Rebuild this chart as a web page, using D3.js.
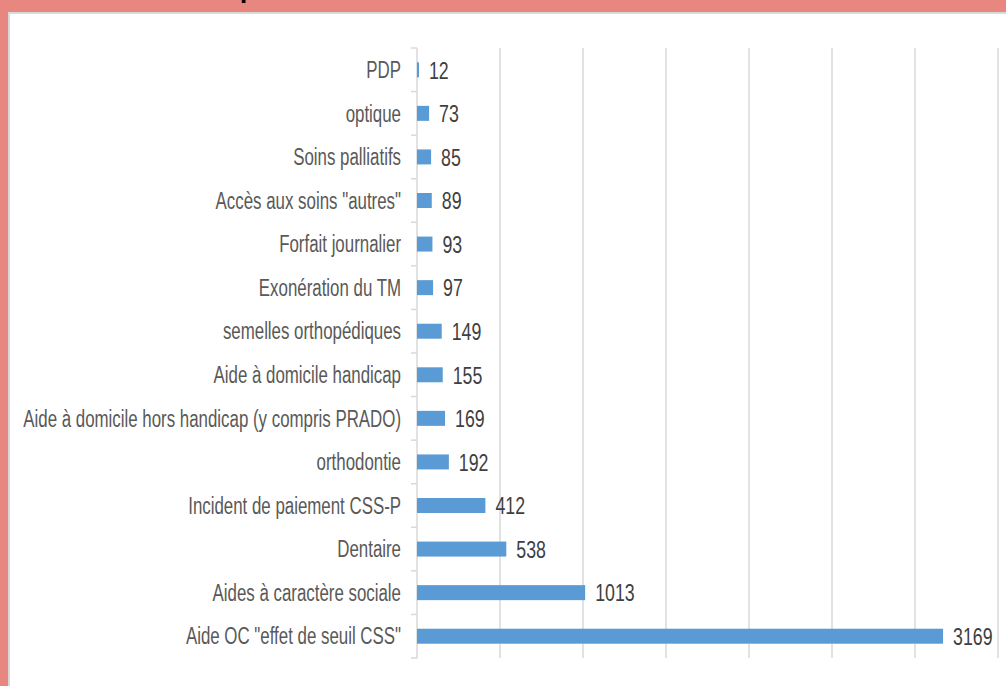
<!DOCTYPE html>
<html><head><meta charset="utf-8">
<script src="https://cdn.jsdelivr.net/npm/d3@7"></script>
<style>html,body{margin:0;padding:0;background:#fff;}</style>
</head><body>
<script>
const categories = ["PDP","optique","Soins palliatifs","Accès aux soins \"autres\"","Forfait journalier","Exonération du TM","semelles orthopédiques","Aide à domicile handicap","Aide à domicile hors handicap (y compris PRADO)","orthodontie","Incident de paiement CSS-P","Dentaire","Aides à caractère sociale ","Aide OC \"effet de seuil CSS\""];
const values = [12,73,85,89,93,97,149,155,169,192,412,538,1013,3169];
const xTicks = [0,500,1000,1500,2000,2500,3000,3500];

const W = 1006, H = 686;
const svg = d3.select("body").append("svg").attr("width", W).attr("height", H);

// frame
svg.append("rect").attr("x",0).attr("y",0).attr("width",W).attr("height",H).attr("fill","#E8877F");
svg.append("rect").attr("x",8).attr("y",12).attr("width",W-8).attr("height",H-12).attr("fill","#D9D9D9");
svg.append("rect").attr("x",10).attr("y",14).attr("width",W-10).attr("height",H-14).attr("fill","#FFFFFF");
// cut-off title fragment (only its descender is visible in the reference)
svg.append("text").attr("x",240).attr("y",-2.5).attr("font-family","Liberation Sans").attr("font-weight","bold")
  .attr("font-size",26).attr("fill","#000").text("p");

const x = d3.scaleLinear().domain([0,3500]).range([417,998]);
const y = d3.scaleBand().domain(categories).range([48,658]).paddingInner(0.656).paddingOuter(0.328);

// gridlines
svg.append("g").selectAll("line").data(xTicks.slice(1)).join("line")
  .attr("x1",d=>x(d)).attr("x2",d=>x(d)).attr("y1",48).attr("y2",658)
  .attr("stroke","#D9D9D9").attr("stroke-width",1.5);

// y axis
const yAxis = svg.append("g").attr("transform",`translate(${x(0)},0)`);
yAxis.append("line").attr("x1",0).attr("x2",0).attr("y1",48).attr("y2",658).attr("stroke","#D9D9D9").attr("stroke-width",1.5);
const step = y.step();
const bounds = d3.range(categories.length+1).map(i => 48 + i*step);
yAxis.selectAll("line.tk").data(bounds).join("line").attr("class","tk")
  .attr("x1",-6).attr("x2",0).attr("y1",d=>d).attr("y2",d=>d).attr("stroke","#D9D9D9").attr("stroke-width",1.5);

// bars
svg.append("g").selectAll("rect").data(values).join("rect")
  .attr("x",x(0)).attr("y",(d,i)=>y(categories[i]))
  .attr("width",d=>x(d)-x(0)).attr("height",y.bandwidth())
  .attr("fill","#5B9BD5");

const font = "'Liberation Sans', Arial, sans-serif";
// category labels (condensed horizontally)
const cat = svg.append("g").selectAll("text").data(categories).join("text")
  .attr("x",0).attr("y",0).attr("dy","0.36em")
  .attr("text-anchor","end").attr("font-family",font).attr("font-size",23)
  .attr("fill","#595959").text(d=>d);
const longest = cat.filter((d,i)=>i===8).node().getComputedTextLength();
const sxCat = 378 / longest;
cat.attr("transform",d=>`translate(401,${y(d)+y.bandwidth()/2}) scale(${sxCat},1)`);

// value labels
const val = svg.append("g").selectAll("text").data(values).join("text")
  .attr("x",0).attr("y",0).attr("dy","0.38em")
  .attr("font-family",font).attr("font-size",23)
  .attr("fill","#404040").text(d=>d);
const wMax = val.filter((d,i)=>i===13).node().getComputedTextLength();
const sxVal = 39.5 / wMax;
val.attr("transform",(d,i)=>`translate(${x(d)+10},${y(categories[i])+y.bandwidth()/2}) scale(${sxVal},1)`);
</script>
</body></html>
